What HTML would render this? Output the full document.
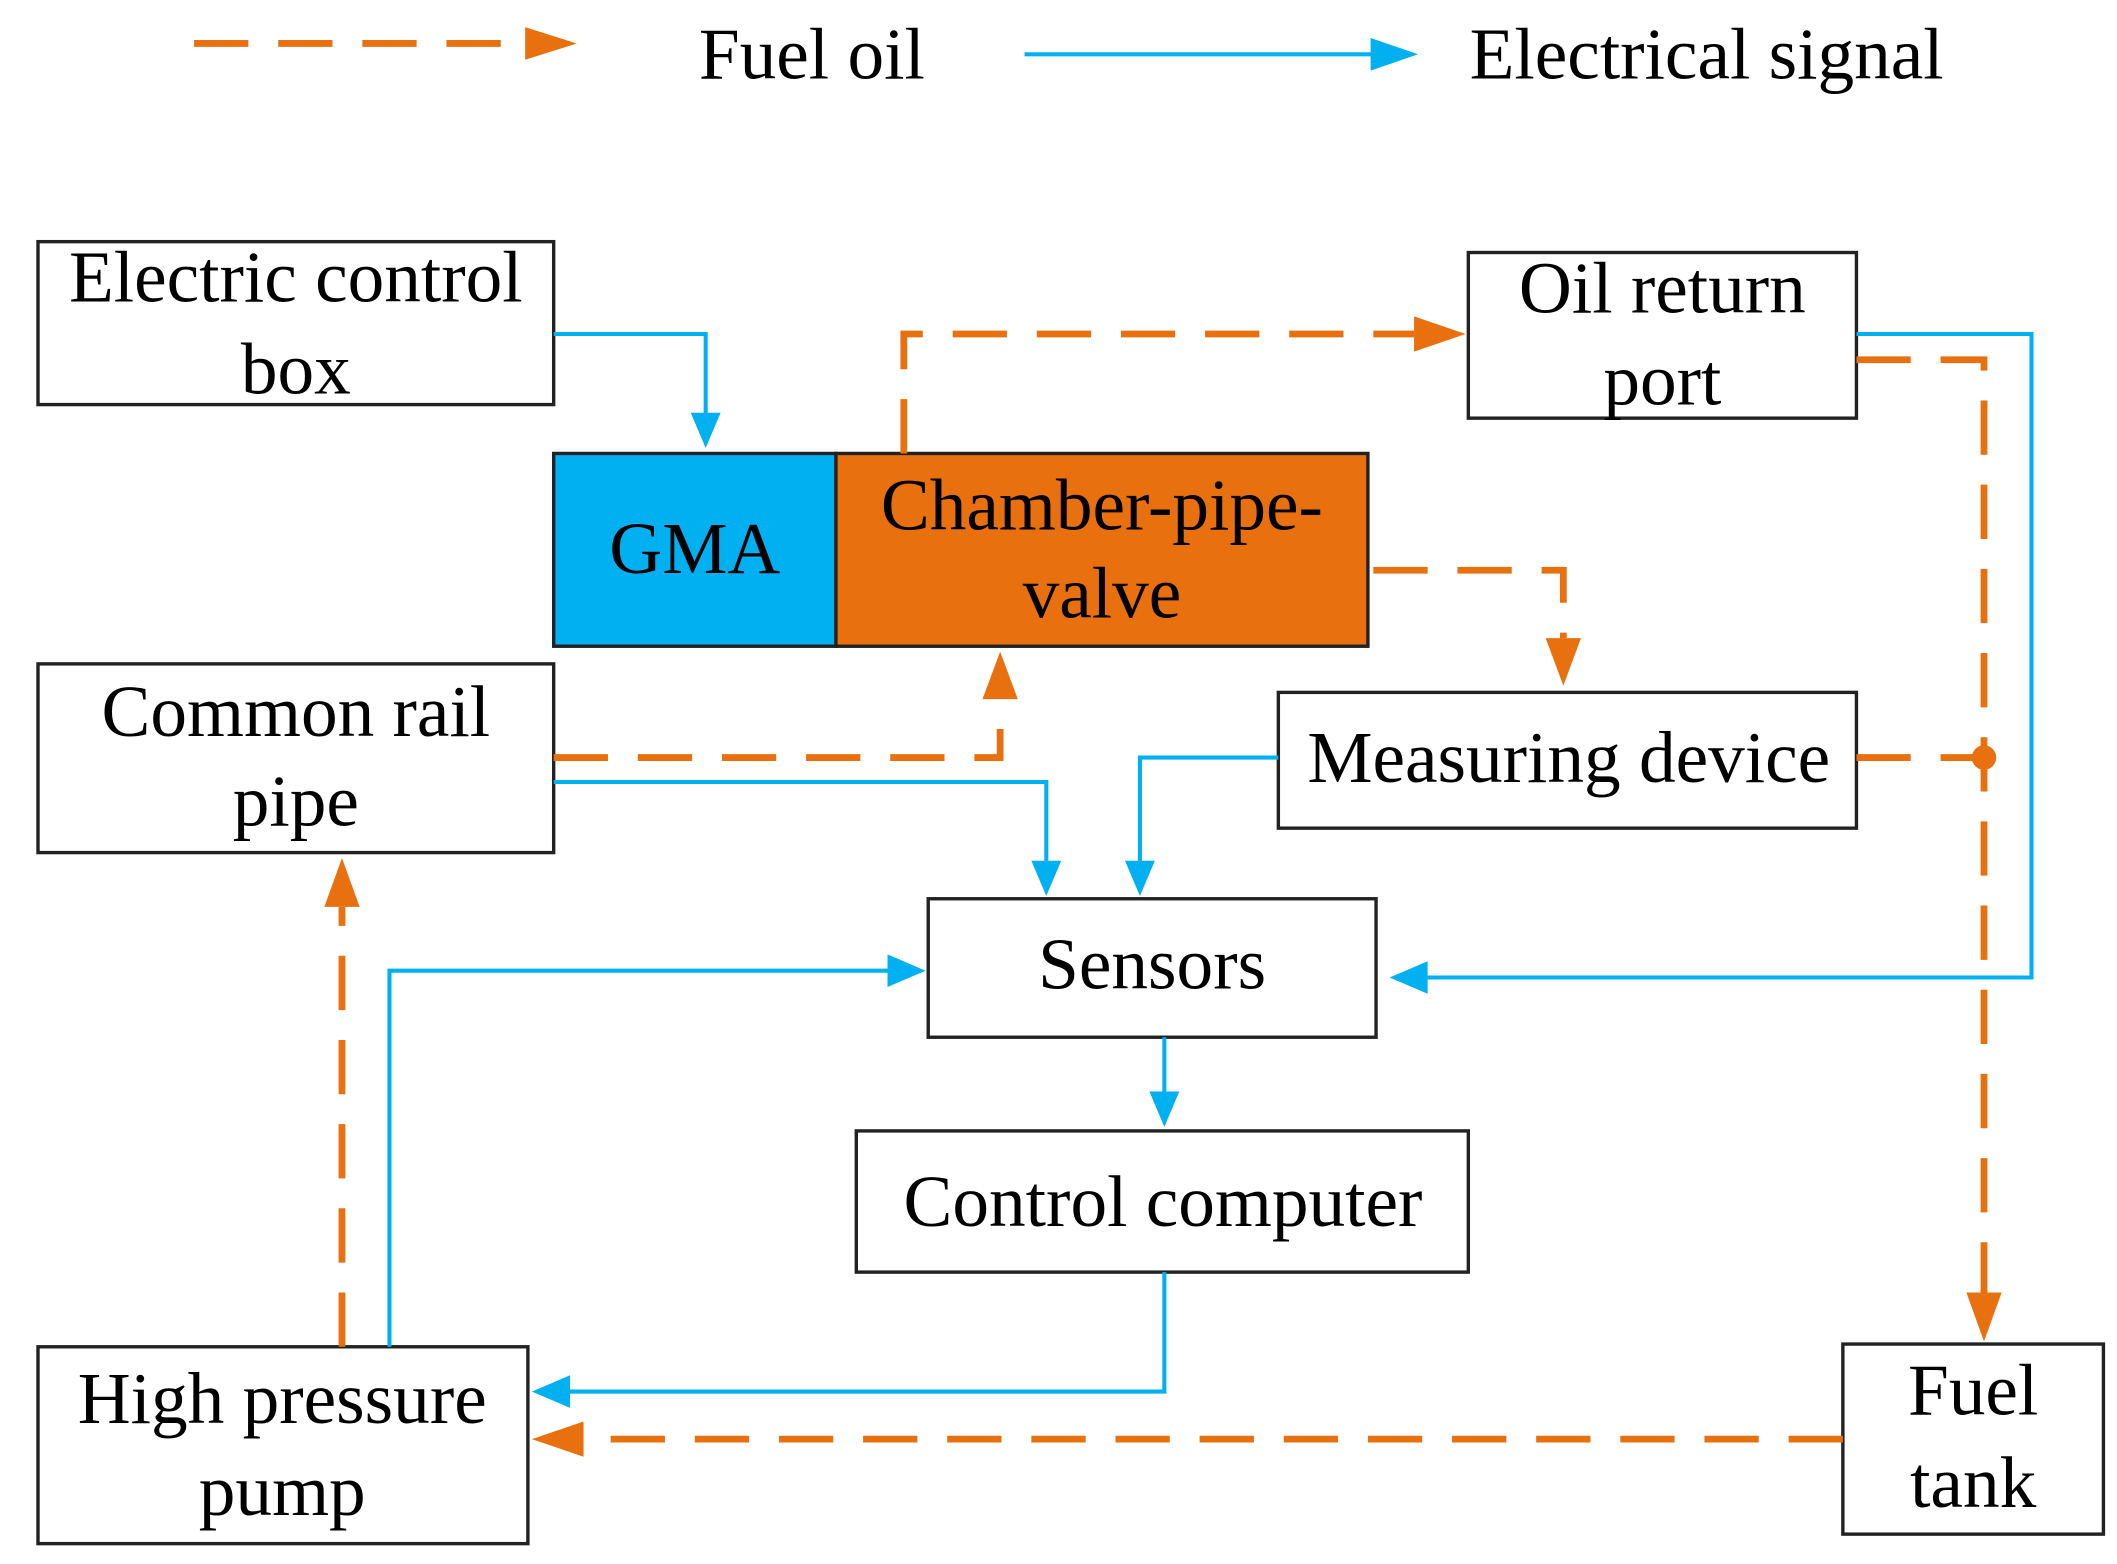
<!DOCTYPE html>
<html><head><meta charset="utf-8"><style>html,body{margin:0;padding:0;background:#fff}svg{display:block}</style></head>
<body>
<svg width="2117" height="1564" viewBox="0 0 1560 1152" preserveAspectRatio="none" xmlns="http://www.w3.org/2000/svg" font-family="Liberation Serif, serif" font-size="54" fill="#000">
<g fill="none" stroke-width="2.5" stroke="#222">
<rect x="28" y="178" width="380" height="120" fill="#fff"/>
<rect x="408" y="334" width="208" height="142" fill="#00B0F0"/>
<rect x="616" y="334" width="392" height="142" fill="#E8700F"/>
<rect x="1082" y="186" width="286" height="122" fill="#fff"/>
<rect x="28" y="489" width="380" height="139" fill="#fff"/>
<rect x="942" y="510" width="426" height="100" fill="#fff"/>
<rect x="684" y="662" width="330" height="102" fill="#fff"/>
<rect x="631" y="833" width="451" height="104" fill="#fff"/>
<rect x="28" y="992" width="361" height="145" fill="#fff"/>
<rect x="1358" y="990" width="192" height="140" fill="#fff"/>
</g>
<g fill="none" stroke="#00B0F0" stroke-width="3">
<path d="M755 40H1012"/>
<path d="M408 246H520V308"/>
<path d="M1368 246H1497V720H1050"/>
<path d="M942 558H840V638"/>
<path d="M408 576H771V638"/>
<path d="M287 992V715H660"/>
<path d="M858 764V808"/>
<path d="M858 937V1025H418"/>
</g>
<g fill="#00B0F0">
<path d="M1045 40L1010 28V52Z"/>
<path d="M520 330L509 304H531Z"/>
<path d="M1024 720L1052 708V732Z"/>
<path d="M840 660L829 634H851Z"/>
<path d="M771 660L760 634H782Z"/>
<path d="M682 715L654 703V727Z"/>
<path d="M858 830L847 804H869Z"/>
<path d="M392 1025L420 1013V1037Z"/>
</g>
<g fill="none" stroke="#E8700F" stroke-width="5" stroke-dasharray="40 22">
<path d="M143 32H390"/>
<path d="M666 334V246H1042"/>
<path d="M1368 265H1462V955"/>
<path d="M1012 420H1152V470"/>
<path d="M1368 558H1462"/>
<path d="M408 558H737V515"/>
<path d="M252 992V668"/>
<path d="M1358 1060H430"/>
</g>
<g fill="#E8700F">
<path d="M425 32L387 20V44Z"/>
<path d="M1080 246L1042 233V259Z"/>
<path d="M1462 988L1449 952H1475Z"/>
<path d="M1152 505L1139 470H1165Z"/>
<path d="M737 480L724 515H750Z"/>
<path d="M252 632L239 668H265Z"/>
<path d="M392 1060L430 1047V1073Z"/>
<circle cx="1462" cy="558" r="9"/>
</g>
<text x="515" y="58">Fuel oil</text>
<text x="1083" y="58">Electrical signal</text>
<g text-anchor="middle">
<text x="218" y="222">Electric control</text>
<text x="218" y="290">box</text>
<text x="512" y="422">GMA</text>
<text x="812" y="390">Chamber-pipe-</text>
<text x="812" y="455">valve</text>
<text x="1225" y="230">Oil return</text>
<text x="1225" y="298">port</text>
<text x="218" y="542">Common rail</text>
<text x="218" y="608">pipe</text>
<text x="1156" y="576">Measuring device</text>
<text x="849" y="728">Sensors</text>
<text x="857" y="903">Control computer</text>
<text x="208" y="1048">High pressure</text>
<text x="208" y="1116">pump</text>
<text x="1454" y="1042">Fuel</text>
<text x="1454" y="1110">tank</text>
</g>
</svg>
</body></html>
